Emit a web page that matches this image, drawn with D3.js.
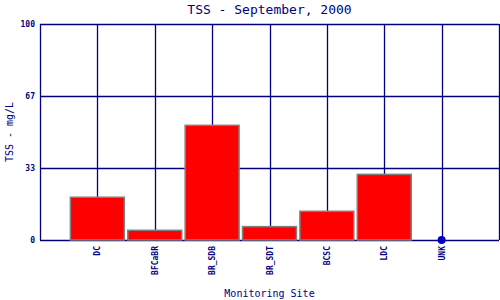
<!DOCTYPE html>
<html>
<head>
<meta charset="utf-8">
<script src="https://cdn.jsdelivr.net/npm/d3@7"></script>
<style>
    body { margin: 0; background: #fff; }
    text { font-family: "DejaVu Sans Mono", monospace; fill: #000080; }
</style>
</head>
<body>
<div id="chart"></div>
<script>
// chart data
let sites = ["DC", "BFCaBR", "BR_SDB", "BR_SDT", "BCSC", "LDC", "UNK"];
let tss = [19.8, 4.5, 53.1, 6.2, 13.3, 30.4, 0];
let yTicks = [0, 33.33, 66.67, 100];
let yTickLabels = ["0", "33", "67", "100"];

let width = 500, height = 300;
let margin = {top: 24, right: 1, bottom: 60, left: 40};

let svg = d3.select("#chart").append("svg")
    .attr("width", width)
    .attr("height", height);

// x positions: sites sit at 1..n, domain runs 0..n+1
let x = d3.scaleLinear()
    .domain([0, sites.length + 1])
    .range([margin.left, width - margin.right]);

let y = d3.scaleLinear()
    .domain([0, 100])
    .range([height - margin.bottom, margin.top]);

let step = x(1) - x(0);
let barW = step * 0.94;

// grid - horizontal
svg.append("g")
    .selectAll("line")
    .data(yTicks)
    .enter().append("line")
    .attr("x1", x(0))
    .attr("x2", x(sites.length + 1))
    .attr("y1", d => Math.round(y(d)) + 0.5)
    .attr("y2", d => Math.round(y(d)) + 0.5)
    .attr("stroke", "#000080")
    .attr("stroke-width", 1.3);

// grid - vertical
svg.append("g")
    .selectAll("line")
    .data(d3.range(0, sites.length + 2))
    .enter().append("line")
    .attr("x1", d => Math.round(x(d)) + 0.5)
    .attr("x2", d => Math.round(x(d)) + 0.5)
    .attr("y1", y(100))
    .attr("y2", y(0))
    .attr("stroke", "#000080")
    .attr("stroke-width", 1.3);

// bars
svg.append("g")
    .selectAll("rect")
    .data(tss.map((v, i) => ({site: sites[i], value: v, i: i + 1})).filter(d => d.value > 0))
    .enter().append("rect")
    .attr("x", d => x(d.i) - barW / 2)
    .attr("width", barW)
    .attr("y", d => y(d.value))
    .attr("height", d => y(0) - y(d.value))
    .attr("fill", "#ff0000")
    .attr("stroke", "#808080")
    .attr("stroke-width", 1.5);

// zero values get a dot
svg.append("g")
    .selectAll("circle")
    .data(tss.map((v, i) => ({value: v, i: i + 1})).filter(d => d.value === 0))
    .enter().append("circle")
    .attr("cx", d => x(d.i))
    .attr("cy", d => y(d.value))
    .attr("r", 4)
    .attr("fill", "#0000c8");

// y tick labels
svg.append("g")
    .selectAll("text")
    .data(yTicks)
    .enter().append("text")
    .attr("x", margin.left - 5)
    .attr("y", d => y(d) + 3)
    .attr("text-anchor", "end")
    .attr("font-size", 8)
    .attr("font-weight", "bold")
    .text((d, i) => yTickLabels[i]);

// x tick labels
svg.append("g")
    .selectAll("text")
    .data(sites)
    .enter().append("text")
    .attr("transform", (d, i) => `translate(${x(i + 1) + 3}, ${y(0) + 6}) rotate(-90)`)
    .attr("text-anchor", "end")
    .attr("font-size", 8)
    .attr("font-weight", "bold")
    .text(d => d);

// title
svg.append("text")
    .attr("x", (x(0) + x(sites.length + 1)) / 2)
    .attr("y", 14)
    .attr("text-anchor", "middle")
    .attr("font-size", 13)
    .text("TSS - September, 2000");

// axis titles
svg.append("text")
    .attr("x", (x(0) + x(sites.length + 1)) / 2)
    .attr("y", 297)
    .attr("text-anchor", "middle")
    .attr("font-size", 10)
    .text("Monitoring Site");

svg.append("text")
    .attr("transform", `translate(13, ${(y(0) + y(100)) / 2}) rotate(-90)`)
    .attr("text-anchor", "middle")
    .attr("font-size", 10)
    .text("TSS - mg/L");
</script>
</body>
</html>
